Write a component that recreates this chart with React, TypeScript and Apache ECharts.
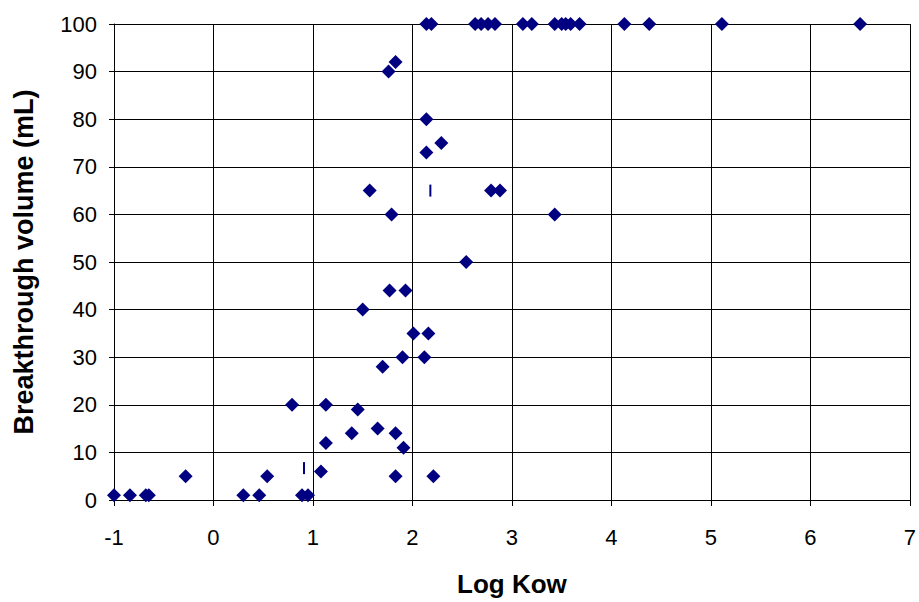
import React, { useEffect, useRef } from "react";
import * as echarts from "echarts";

const logKow: number[] = [
  -1.0, -0.84, -0.68, -0.65, -0.28, 0.3, 0.46, 0.54, 0.89, 0.95,
  0.79, 1.08, 1.13, 1.13, 1.39, 1.45, 1.65, 1.83, 1.91, 1.83, 2.21,
  1.5, 1.77, 1.93, 2.01, 2.16, 1.9, 2.12, 1.7, 2.54,
  1.57, 1.79, 2.79, 2.88, 3.43, 2.14, 2.29, 2.14, 1.76, 1.83,
  2.14, 2.19, 2.63, 2.69, 2.76, 2.83, 3.11, 3.2, 3.43, 3.5, 3.54, 3.59, 3.68, 4.13, 4.38, 5.11, 6.5,
];
const volume: number[] = [
  1, 1, 1, 1, 5, 1, 1, 5, 1, 1,
  20, 6, 12, 20, 14, 19, 15, 14, 11, 5, 5,
  40, 44, 44, 35, 35, 30, 30, 28, 50,
  65, 60, 65, 65, 60, 73, 75, 80, 90, 92,
  100, 100, 100, 100, 100, 100, 100, 100, 100, 100, 100, 100, 100, 100, 100, 100, 100,
];
const dashX: number[] = [0.91, 2.18];
const dashY: number[] = [6.7, 65];
const xTicks = { min: -1, max: 7, interval: 1 };
const yTicks = { min: 0, max: 100, interval: 10 };

export default function App() {
  const ref = useRef<HTMLDivElement>(null);
  useEffect(() => {
    if (!ref.current) return;
    const chart = echarts.init(ref.current, null, { renderer: "svg" });
    const font = "'Liberation Sans', Arial, sans-serif";
    chart.setOption({
      animation: false,
      backgroundColor: "#ffffff",
      grid: { left: 114, right: 9, top: 24, height: 483, containLabel: false },
      xAxis: {
        type: "value",
        min: xTicks.min,
        max: xTicks.max,
        interval: xTicks.interval,
        name: "Log Kow",
        nameLocation: "middle",
        nameGap: 71,
        nameTextStyle: { fontFamily: font, fontWeight: "bold", fontSize: 26, color: "#000" },
        axisLine: { show: true, onZero: false, lineStyle: { color: "#000", width: 1 } },
        axisTick: { show: true, inside: false, length: 6, lineStyle: { color: "#000" } },
        axisLabel: { margin: 26, fontFamily: font, fontSize: 22, color: "#000" },
        splitLine: { show: true, lineStyle: { color: "#000", width: 1 } },
      },
      yAxis: {
        type: "value",
        min: yTicks.min,
        max: yTicks.max,
        interval: yTicks.interval,
        name: "Breakthrough volume (mL)",
        nameLocation: "middle",
        nameGap: 77,
        nameTextStyle: { fontFamily: font, fontWeight: "bold", fontSize: 27, color: "#000" },
        axisLine: { show: true, onZero: false, lineStyle: { color: "#000", width: 1 } },
        axisTick: { show: true, inside: false, length: 5, lineStyle: { color: "#000" } },
        axisLabel: { margin: 17, fontFamily: font, fontSize: 22, color: "#000" },
        splitLine: { show: true, lineStyle: { color: "#000", width: 1 } },
      },
      series: [
        {
          type: "scatter",
          data: logKow.map((x, i) => [x, volume[i]]),
          symbol: "diamond",
          symbolSize: 14,
          itemStyle: { color: "#000080", opacity: 1 },
          clip: false,
        },
        {
          type: "scatter",
          data: dashX.map((x, i) => [x, dashY[i]]),
          symbol: "rect",
          symbolSize: [2, 12],
          itemStyle: { color: "#000080", opacity: 1 },
        },
      ],
    });
    return () => chart.dispose();
  }, []);
  return (
    <div
      ref={ref}
      style={{ position: "fixed", left: 0, top: 0, width: 919, height: 602, background: "#fff" }}
    />
  );
}
